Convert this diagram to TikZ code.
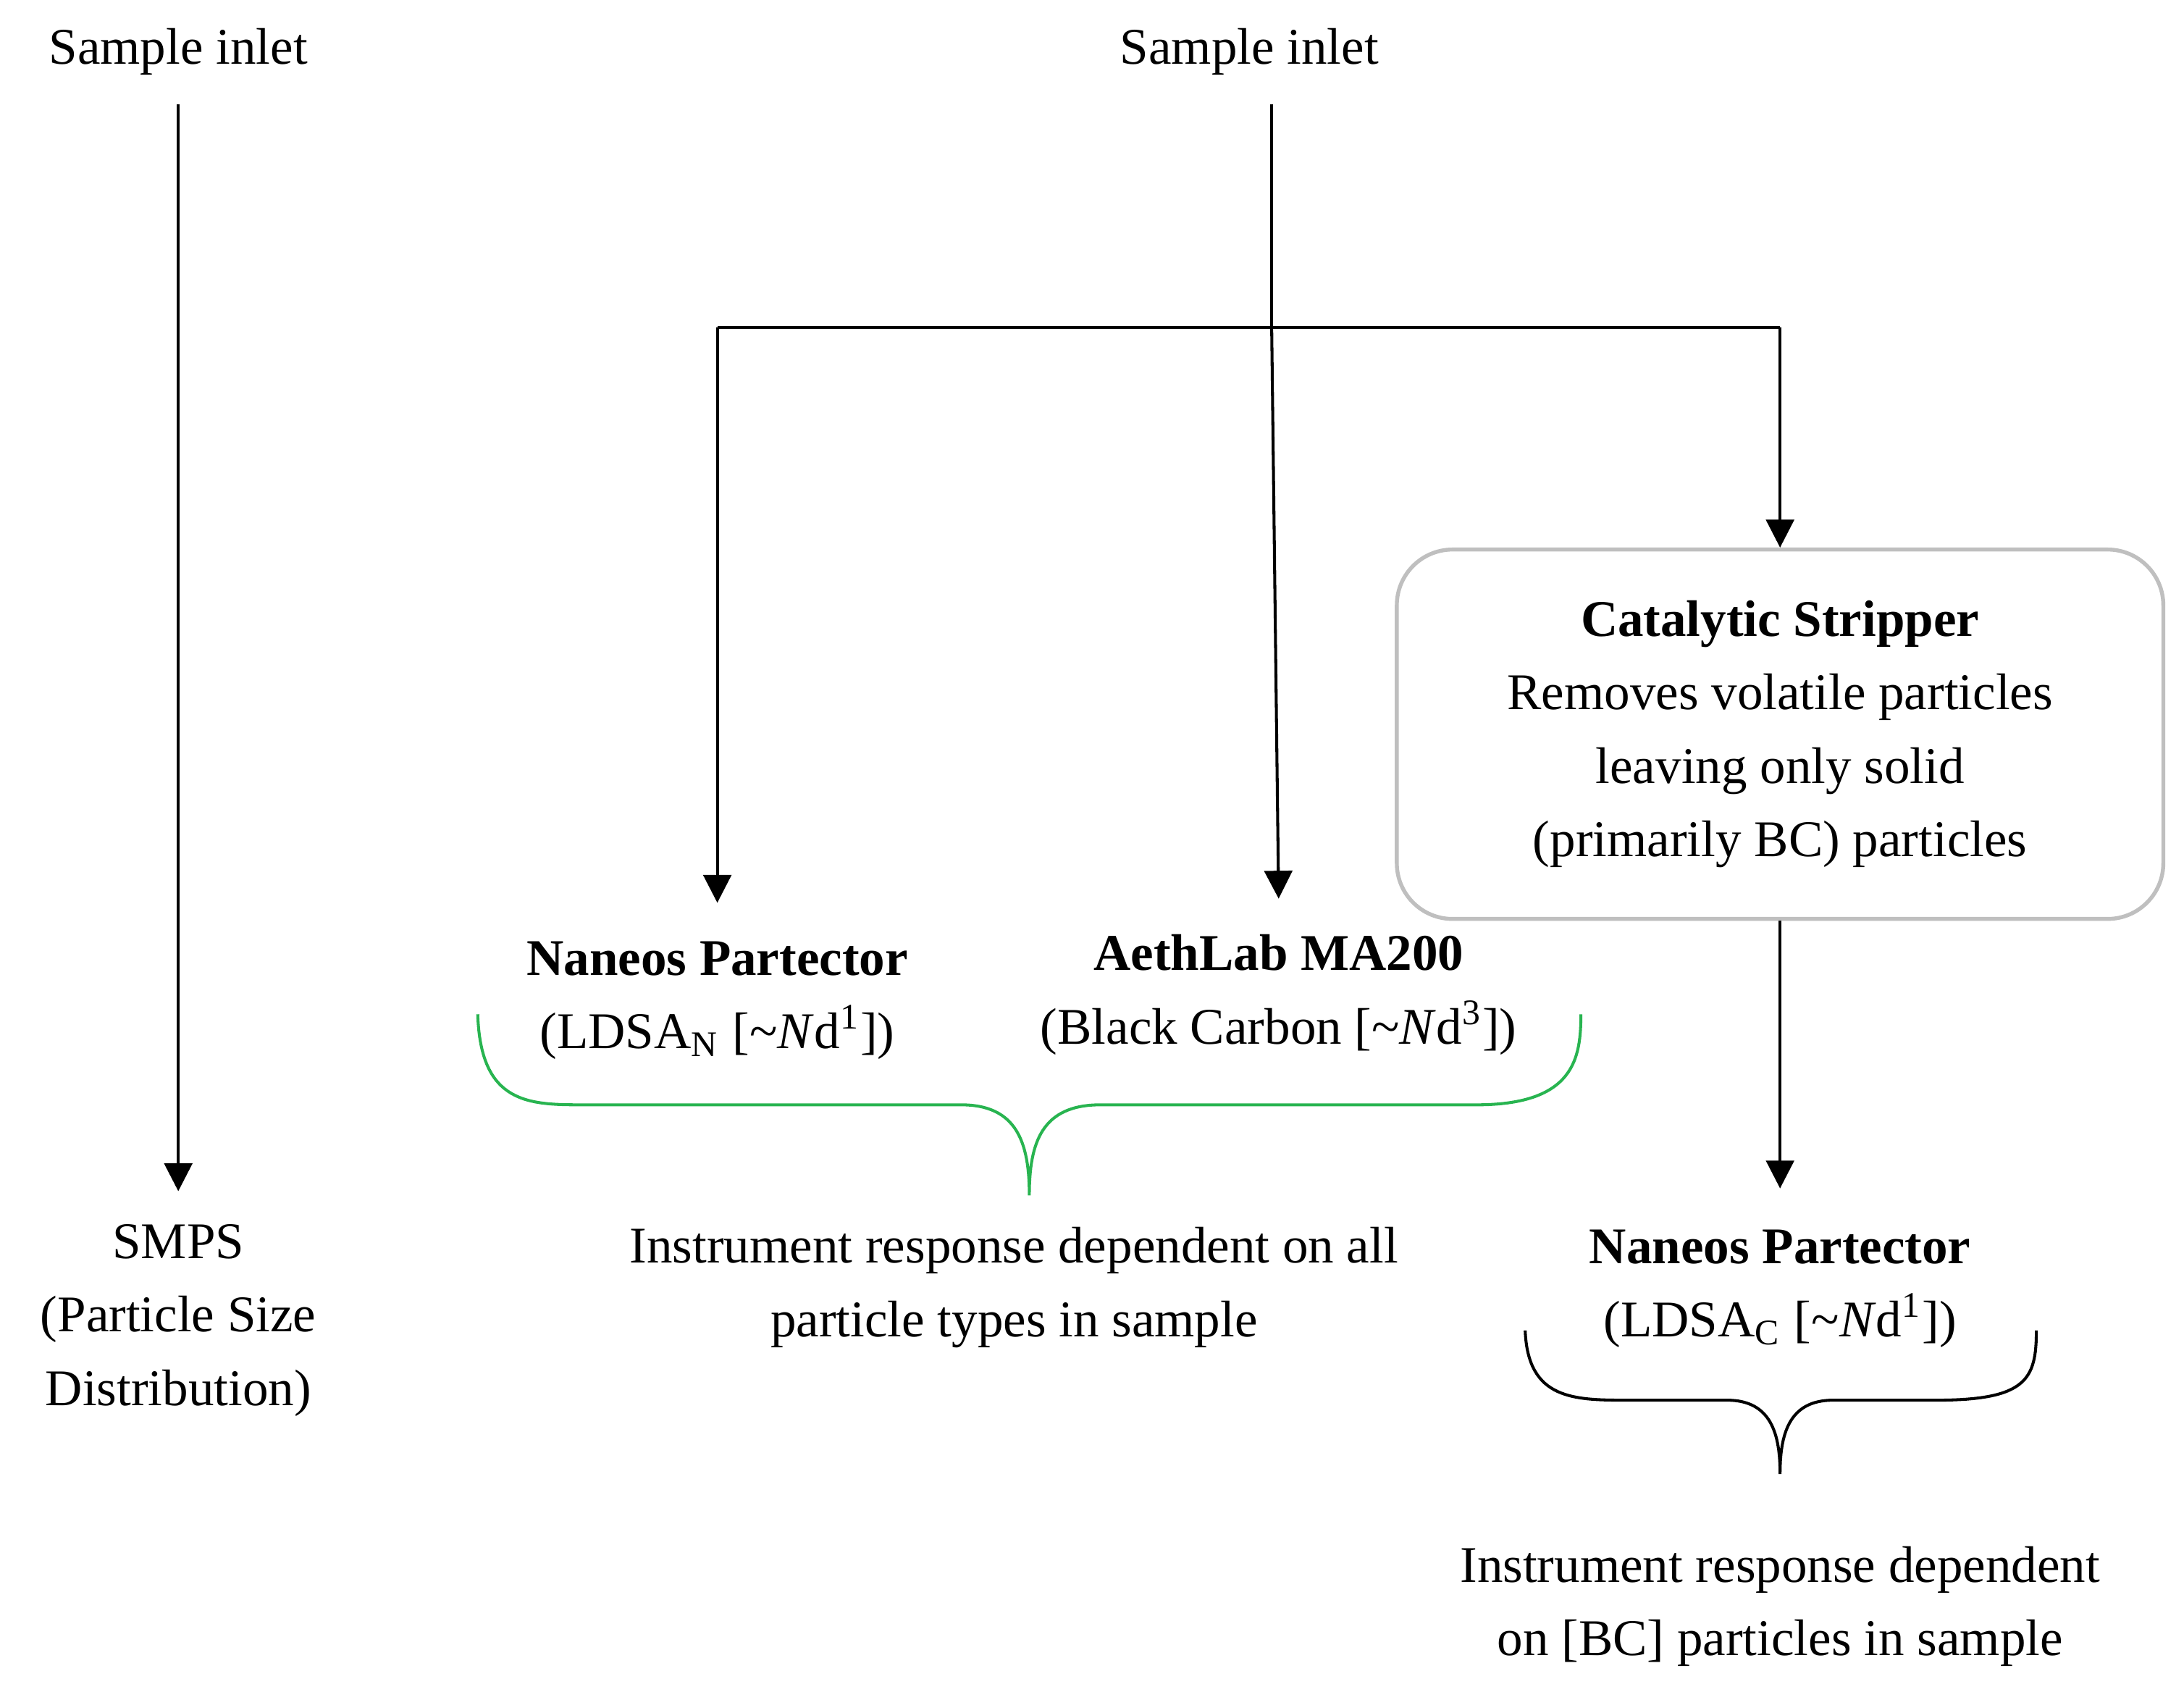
\documentclass[tikz,border=0pt]{standalone}
\usepackage{fontspec}
\setmainfont{Liberation Serif}
\usetikzlibrary{arrows.meta}
\begin{document}
\begin{tikzpicture}[x=0.01cm,y=-0.01cm,
  txt/.style={font=\fontsize{10.5}{15}\selectfont,align=center,inner sep=0pt},
  arr/.style={-{Triangle[length=0.2cm,width=0.2cm]},line width=0.6pt},
  ln/.style={line width=0.6pt}]
\useasboundingbox (0,0) rectangle (1568,1214);
\node[txt] (si1) at (128,37) {Sample inlet};
\node[txt] (si2) at (897,37) {Sample inlet};
\coordinate (a1) at (128,855);
\draw[arr] (128,75) -- (a1);
\node[txt,anchor=north] (smps) at (128,878) {SMPS\\(Particle Size\\Distribution)};
\coordinate (j) at (913,235);
\coordinate (jl) at (515,235);
\coordinate (jr) at (1278,235);
\draw[ln] (913,75) -- (j);
\draw[ln] (jl) -- (jr);
\draw[arr] (j) -- (918,645);
\draw[arr] (jl) -- (515,648);
\node[draw,rounded corners=0.4cm,minimum width=5.5cm,minimum height=2.65cm,draw=black!25,line width=0.8pt] (cs) at (1278,527) {};
\node[txt] at (cs) {\textbf{Catalytic Stripper}\\Removes volatile particles\\leaving only solid\\(primarily BC) particles};
\draw[arr] (jr) -- (cs.north);
\node[txt] (np1) at (515,718) {\textbf{Naneos Partector}\\(LDSA\textsubscript{N} [\textasciitilde\textit{N}d\textsuperscript{1}])};
\node[txt] (ae) at (918,714) {\textbf{AethLab MA200}\\(Black Carbon [\textasciitilde\textit{N}d\textsuperscript{3}])};
\draw[ln,draw={rgb,255:red,40;green,180;blue,80}] (343,728) .. controls (345,793) and (380,793) .. (420,793) -- (690,793) .. controls (730,793) and (739,820) .. (739,858) .. controls (739,820) and (748,793) .. (790,793) -- (1060,793) .. controls (1130,793) and (1135,760) .. (1135,728);
\node[txt] (ir1) at (728,924) {Instrument response dependent on all\\particle types in sample};
\coordinate (a4) at (1278,853);
\draw[arr] (cs.south) -- (a4);
\node[txt] (np2) at (1278,925) {\textbf{Naneos Partector}\\(LDSA\textsubscript{C} [\textasciitilde\textit{N}d\textsuperscript{1}])};
\draw[ln] (1095,955) .. controls (1097,1005) and (1130,1005) .. (1170,1005) -- (1240,1005) .. controls (1272,1005) and (1278,1030) .. (1278,1058) .. controls (1278,1030) and (1284,1005) .. (1316,1005) -- (1390,1005) .. controls (1455,1005) and (1462,990) .. (1462,955);
\node[txt] (ir2) at (1278,1153) {Instrument response dependent\\on [BC] particles in sample};
\end{tikzpicture}
\end{document}
